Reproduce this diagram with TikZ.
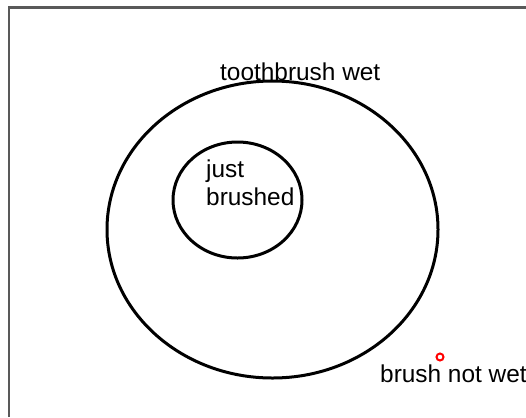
\documentclass[tikz,border=0pt]{standalone}
\usepackage{fontspec}
\setmainfont{Liberation Sans}
\begin{document}
\begin{tikzpicture}[x=1bp,y=-1bp,
 frame/.style={draw=black!65,line width=2.2bp},
 set/.style={draw,line width=3bp},
 tag/.style={anchor=base west,inner sep=0pt,font=\fontsize{24.4bp}{28bp}\selectfont},
 spot/.style={circle,draw=red,line width=2bp,inner sep=0pt,minimum size=7bp}]
 \useasboundingbox (0,0) rectangle (526,417);
 % frame, cut off at right and bottom
 \draw[frame] (9,417) -- (9,7.5) -- (526,7.5);
 % the two sets
 \draw[set] (272.5,229.5) ellipse[x radius=165.5,y radius=148.5];
 \draw[set] (237.5,200) ellipse[x radius=64.5,y radius=58];
 \node[tag] (wet) at (220,80) {toothbrush wet};
 \node[tag] (just) at (206,177) {just};
 \node[tag] (brushed) at (206,205) {brushed};
 \node[spot] (pt) at (440,357) {};
 \node[tag] (notwet) at (380,382) {brush not wet};
\end{tikzpicture}
\end{document}
